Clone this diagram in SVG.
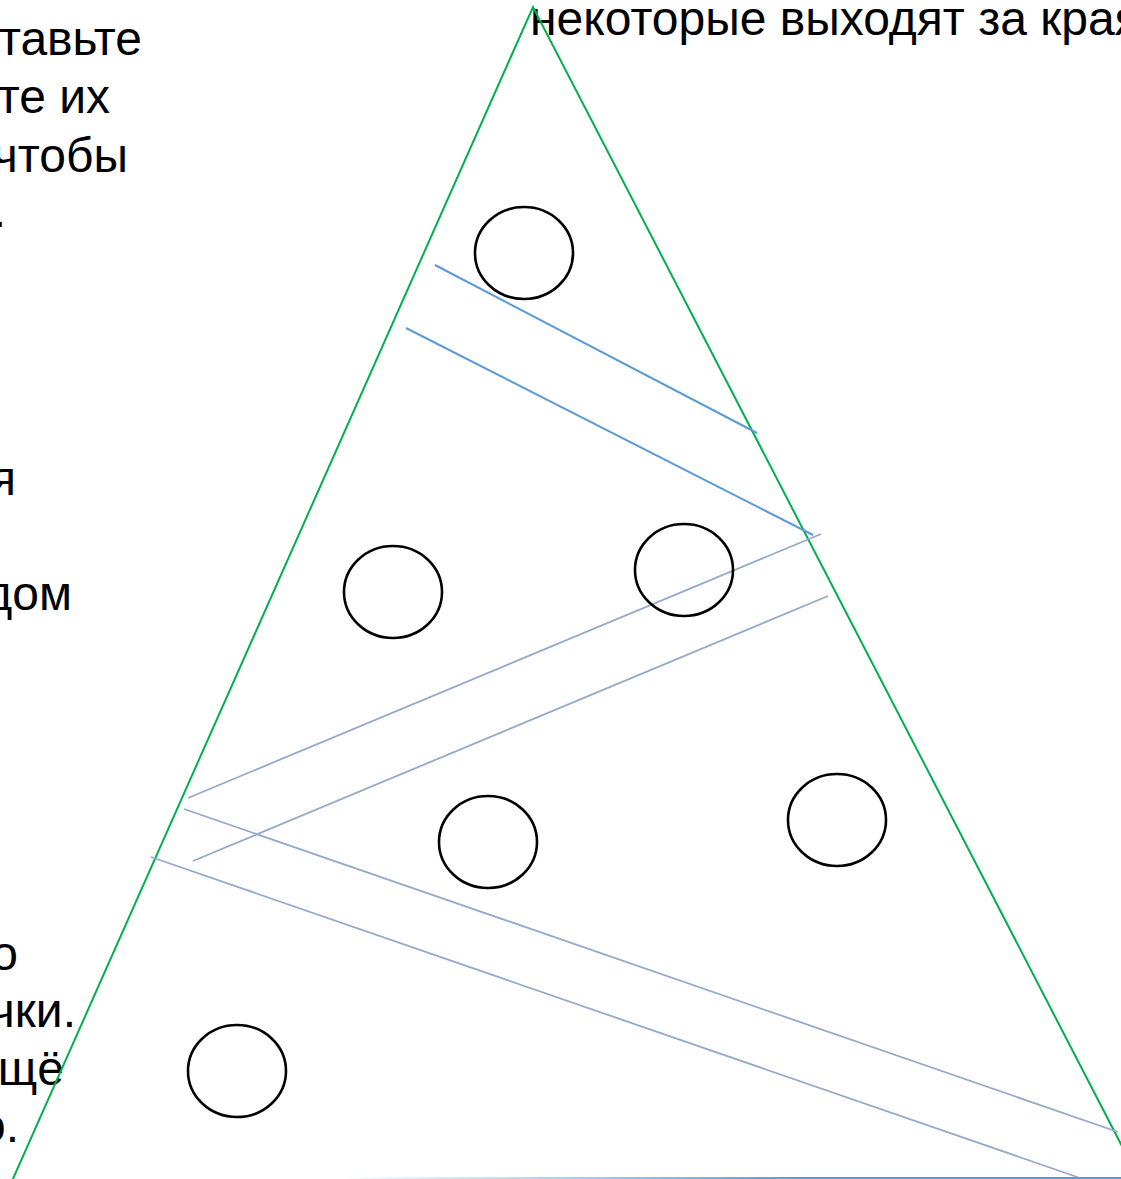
<svg xmlns="http://www.w3.org/2000/svg" width="1121" height="1179" viewBox="0 0 1121 1179">
<style>
.t{font-family:"Liberation Sans",Arial,sans-serif;font-size:48px;fill:#000}
.e{text-anchor:end}
.ball{fill:none;stroke:#000;stroke-width:2.6}
.tree{stroke:#00b050;stroke-width:2;fill:none}
.blue{stroke:#5b9bd5;stroke-width:2;fill:none}
.gray{stroke:#95a9c9;stroke-width:1.8;fill:none}
</style>
<defs>
<linearGradient id="fade" x1="340" y1="0" x2="800" y2="0" gradientUnits="userSpaceOnUse">
<stop offset="0" stop-color="#5b9bd5" stop-opacity="0"/>
<stop offset="1" stop-color="#5b9bd5" stop-opacity="1"/>
</linearGradient>
</defs>
<rect width="1121" height="1179" fill="#fff"/>
<g id="left-text">
<text class="t e" x="142" y="55">тавьте</text>
<text class="t e" x="110" y="113">те их</text>
<text class="t e" x="128" y="172">чтобы</text>
<text class="t e" x="6" y="227">.</text>
<text class="t e" x="16" y="495">я</text>
<text class="t e" x="72" y="610">дом</text>
<text class="t e" x="18" y="970">о</text>
<text class="t e" x="76" y="1027">чки.</text>
<text class="t e" x="64" y="1085">щё</text>
<text class="t e" x="19" y="1142">о.</text>
</g>
<g id="top-text">
<text class="t" x="530" y="35">некоторые выходят за края</text>
</g>
<g id="tree">
<polyline class="tree" points="12,1181 533,7 1140,1181"/>
</g>
<g id="connectors">
<line class="blue" x1="435" y1="265" x2="757" y2="433"/>
<line class="blue" x1="406" y1="328" x2="813" y2="535"/>
<line class="gray" x1="188" y1="798" x2="821" y2="534"/>
<line class="gray" x1="193" y1="861" x2="828" y2="596"/>
<line class="gray" x1="184" y1="809" x2="1118" y2="1132"/>
<line class="gray" x1="151" y1="857" x2="1080" y2="1178"/>
<line x1="340" y1="1178" x2="1121" y2="1178" stroke="url(#fade)" stroke-width="2"/>
</g>
<g id="ball1"><ellipse class="ball" cx="524" cy="253" rx="49" ry="46"/></g>
<g id="ball2"><ellipse class="ball" cx="393" cy="592" rx="49" ry="46"/></g>
<g id="ball3"><ellipse class="ball" cx="684" cy="570" rx="49" ry="46"/></g>
<g id="ball4"><ellipse class="ball" cx="488" cy="842" rx="49" ry="46"/></g>
<g id="ball5"><ellipse class="ball" cx="837" cy="820" rx="49" ry="46"/></g>
<g id="ball6"><ellipse class="ball" cx="237" cy="1071" rx="49" ry="46"/></g>
</svg>
